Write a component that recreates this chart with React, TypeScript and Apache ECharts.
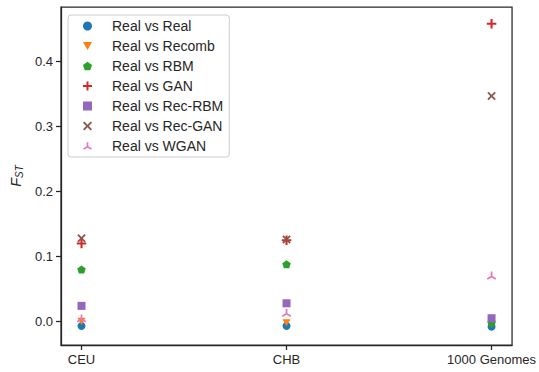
import React, { useEffect, useRef } from "react";
import * as echarts from "echarts";

const categories = ["CEU", "CHB", "1000 Genomes"];
const seriesNames = [
  "Real vs Real",
  "Real vs Recomb",
  "Real vs RBM",
  "Real vs GAN",
  "Real vs Rec-RBM",
  "Real vs Rec-GAN",
  "Real vs WGAN",
];
const realVsReal = [-0.007, -0.007, -0.008];
const realVsRecomb = [0.0, -0.002, -0.004];
const realVsRBM = [0.08, 0.088, -0.002];
const realVsGAN = [0.12, 0.125, 0.458];
const realVsRecRBM = [0.024, 0.028, 0.005];
const realVsRecGAN = [0.128, 0.126, 0.347];
const realVsWGAN = [0.003, 0.0115, 0.069];
const yTicks = [0, 0.1, 0.2, 0.3, 0.4];

const allValues = [realVsReal, realVsRecomb, realVsRBM, realVsGAN, realVsRecRBM, realVsRecGAN, realVsWGAN];
const colors = ["#1f77b4", "#ff7f0e", "#2ca02c", "#d62728", "#9467bd", "#8c564b", "#e377c2"];
const symbols = [
  "path://M5,0A5,5,0,1,1,4.99,0Z",
  "path://M0,0L10,0L5,9Z",
  "path://M5,0L10,3.63L8.09,9.51L1.91,9.51L0,3.63Z",
  "path://M3.9,0H6.1V3.9H10V6.1H6.1V10H3.9V6.1H0V3.9H3.9Z",
  "path://M0,0H10V10H0Z",
  "path://M0,1.5L1.5,0L5,3.5L8.5,0L10,1.5L6.5,5L10,8.5L8.5,10L5,6.5L1.5,10L0,8.5L3.5,5Z",
  "path://M4.1,0L5.9,0L5.9,4.48L9.83,6.75L8.93,8.31L5,6.04L1.07,8.31L0.17,6.75L4.1,4.48Z",
];
const sizes = [8, 8, 8.5, 9.5, 8, 8.5, 9.5];
const offsets = [[0, 0], [0, 0], [0, 0], [0, 0], [0, 0], [0, 0], [0, -1]];

const FONT = "'Liberation Sans', Arial, sans-serif";
const AXIS_COLOR = "#262626";

export default function App() {
  const ref = useRef<HTMLDivElement>(null);
  useEffect(() => {
    if (!ref.current) return;
    const chart = echarts.init(ref.current, undefined, { renderer: "svg" });
    const series = seriesNames.map((name, i) => ({
      name,
      type: "scatter",
      data: allValues[i].map((v, j) => [j, v]),
      symbol: symbols[i],
      symbolSize: sizes[i],
      symbolKeepAspect: true,
      symbolOffset: offsets[i],
      itemStyle: { color: colors[i], opacity: 1 },
      emphasis: { disabled: true },
    }));
    chart.setOption({
      animation: false,
      textStyle: { fontFamily: FONT },
      grid: {
        left: 61,
        right: 24,
        top: 7,
        bottom: 27,
        show: true,
        borderColor: AXIS_COLOR,
        borderWidth: 1.25,
      },
      legend: {
        orient: "vertical",
        left: 68,
        top: 15,
        padding: [4, 6, 4, 15],
        itemGap: 6,
        itemWidth: 9,
        itemHeight: 9,
        symbolKeepAspect: true,
        backgroundColor: "rgba(255,255,255,0.8)",
        borderColor: "#cccccc",
        borderWidth: 1,
        borderRadius: 3,
        textStyle: { fontSize: 14, color: "#262626", fontFamily: FONT, lineHeight: 14, padding: [0, 0, 0, 15] },
        data: seriesNames.map((n, i) => ({ name: n, icon: symbols[i] })),
      },
      xAxis: {
        type: "value",
        min: -0.1,
        max: 2.1,
        splitLine: { show: false },
        axisLine: { show: true, onZero: false, lineStyle: { color: AXIS_COLOR, width: 1.25 } },
        axisTick: {
          show: true,
          length: 5,
          customValues: [0, 1, 2],
          lineStyle: { color: AXIS_COLOR, width: 1.25 },
        },
        axisLabel: {
          customValues: [0, 1, 2],
          formatter: (v: number) => categories[Math.round(v)] ?? "",
          fontSize: 13,
          color: AXIS_COLOR,
          margin: 8,
          fontFamily: FONT,
        },
      },
      yAxis: {
        type: "value",
        min: -0.0362,
        max: 0.4838,
        name: "{f|F}{s|ST}",
        nameLocation: "middle",
        nameRotate: 90,
        nameGap: 37,
        nameTextStyle: {
          rich: {
            f: { fontSize: 14.5, fontStyle: "italic", color: AXIS_COLOR, fontFamily: FONT },
            s: { fontSize: 10, fontStyle: "italic", color: AXIS_COLOR, fontFamily: FONT, verticalAlign: "bottom", padding: [6, 0, 0, 0] },
          },
        },
        splitLine: { show: false },
        axisLine: { show: true, onZero: false, lineStyle: { color: AXIS_COLOR, width: 1.25 } },
        axisTick: {
          show: true,
          length: 5,
          customValues: yTicks,
          lineStyle: { color: AXIS_COLOR, width: 1.25 },
        },
        axisLabel: {
          customValues: yTicks,
          formatter: (v: number) => v.toFixed(1),
          fontSize: 13,
          color: AXIS_COLOR,
          margin: 8,
          fontFamily: FONT,
        },
      },
      series,
    });
    return () => chart.dispose();
  }, []);
  return <div ref={ref} style={{ width: 539, height: 372, position: "absolute", left: 0, top: 0 }} />;
}
